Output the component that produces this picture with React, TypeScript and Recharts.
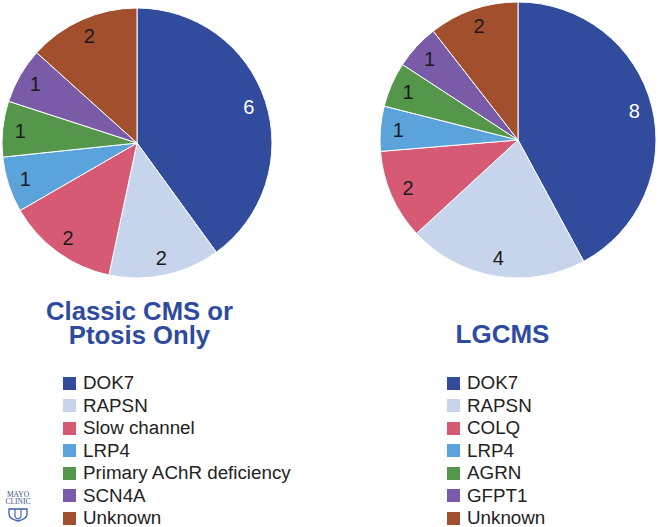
import React from "react";
import { Pie, PieChart, Cell } from "recharts";

const classicNames = ["DOK7", "RAPSN", "Slow channel", "LRP4", "Primary AChR deficiency", "SCN4A", "Unknown"];
const classicValues = [6, 2, 2, 1, 1, 1, 2];

const lgcmsNames = ["DOK7", "RAPSN", "COLQ", "LRP4", "AGRN", "GFPT1", "Unknown"];
const lgcmsValues = [8, 4, 2, 1, 1, 1, 2];

const sliceColors = ["#314b9d", "#c6d4ec", "#d65a74", "#5ba4db", "#54964a", "#7a5ba8", "#a14f2d"];

const FONT = "'Liberation Sans', Arial, Helvetica, sans-serif";
const TITLE_BLUE = "#2f4ba0";

const classicData = classicNames.map((name, i) => ({ name, value: classicValues[i] }));
const lgcmsData = lgcmsNames.map((name, i) => ({ name, value: lgcmsValues[i] }));

const RAD = Math.PI / 180;

function renderLabel(props: any) {
  const { cx, cy, midAngle, outerRadius, value, index } = props;
  const r = outerRadius * 0.87;
  const x = cx + r * Math.cos(-midAngle * RAD);
  const y = cy + r * Math.sin(-midAngle * RAD);
  return (
    <text
      x={x}
      y={y}
      fill={index === 0 ? "#ffffff" : "#1a1a1a"}
      textAnchor="middle"
      dominantBaseline="central"
      fontSize={20}
      fontFamily={FONT}
    >
      {value}
    </text>
  );
}

function LegendList({ names, left }: { names: string[]; left: number }) {
  return (
    <div style={{ position: "absolute", left, top: 372, fontFamily: FONT }}>
      {names.map((name, i) => (
        <div
          key={name}
          style={{ display: "flex", alignItems: "center", height: 22.5, fontSize: 18.8, color: "#222" }}
        >
          <span
            style={{ width: 13, height: 13, background: sliceColors[i], marginRight: 7, display: "inline-block" }}
          />
          <span>{name}</span>
        </div>
      ))}
    </div>
  );
}

// small Mayo Clinic mark in the bottom-left corner
function MayoLogo() {
  return (
    <div style={{ position: "absolute", left: 2, top: 491, width: 32, textAlign: "center", fontFamily: "'Liberation Serif', 'DejaVu Serif', serif", color: "#3a4f86", lineHeight: "7px", fontSize: 7.5 }}>
      <div>MAYO CLINIC</div>
      <svg width={20} height={14} viewBox="0 0 20 14" style={{ marginTop: 3 }}>
        <path d="M1 1 L19 1 L19 6 Q19 11 10 13 Q1 11 1 6 Z" fill="none" stroke="#3a5fa8" strokeWidth={1.3} />
        <path d="M7 1 L7 8 Q7 10 10 11 Q13 10 13 8 L13 1" fill="none" stroke="#3a5fa8" strokeWidth={1.1} />
      </svg>
    </div>
  );
}

export default function App() {
  return (
    <div style={{ position: "absolute", left: 0, top: 0, width: 658, height: 527, background: "#fff", overflow: "hidden" }}>
      <PieChart width={658} height={527} margin={{ top: 0, right: 0, bottom: 0, left: 0 }}>
        <Pie
          data={classicData}
          dataKey="value"
          nameKey="name"
          cx={137}
          cy={143}
          outerRadius={135}
          startAngle={90}
          endAngle={-270}
          stroke="#ffffff"
          strokeWidth={1}
          label={renderLabel}
          labelLine={false}
          isAnimationActive={false}
        >
          {classicData.map((d, i) => (
            <Cell key={d.name} fill={sliceColors[i]} />
          ))}
        </Pie>
        <Pie
          data={lgcmsData}
          dataKey="value"
          nameKey="name"
          cx={518}
          cy={140}
          outerRadius={138}
          startAngle={90}
          endAngle={-270}
          stroke="#ffffff"
          strokeWidth={1}
          label={renderLabel}
          labelLine={false}
          isAnimationActive={false}
        >
          {lgcmsData.map((d, i) => (
            <Cell key={d.name} fill={sliceColors[i]} />
          ))}
        </Pie>
        <text x={502.5} y={343} textAnchor="middle" fontFamily={FONT} fontWeight="bold" fontSize={26} fill={TITLE_BLUE}>
          LGCMS
        </text>
      </PieChart>
      <div
        style={{
          position: "absolute",
          left: 0,
          top: 300,
          width: 279,
          textAlign: "center",
          fontFamily: FONT,
          fontWeight: "bold",
          fontSize: 25.7,
          lineHeight: "23.5px",
          color: TITLE_BLUE,
        }}
      >
        Classic CMS or
        <br />
        Ptosis Only
      </div>
      <LegendList names={classicNames} left={63} />
      <LegendList names={lgcmsNames} left={447} />
      <MayoLogo />
    </div>
  );
}
